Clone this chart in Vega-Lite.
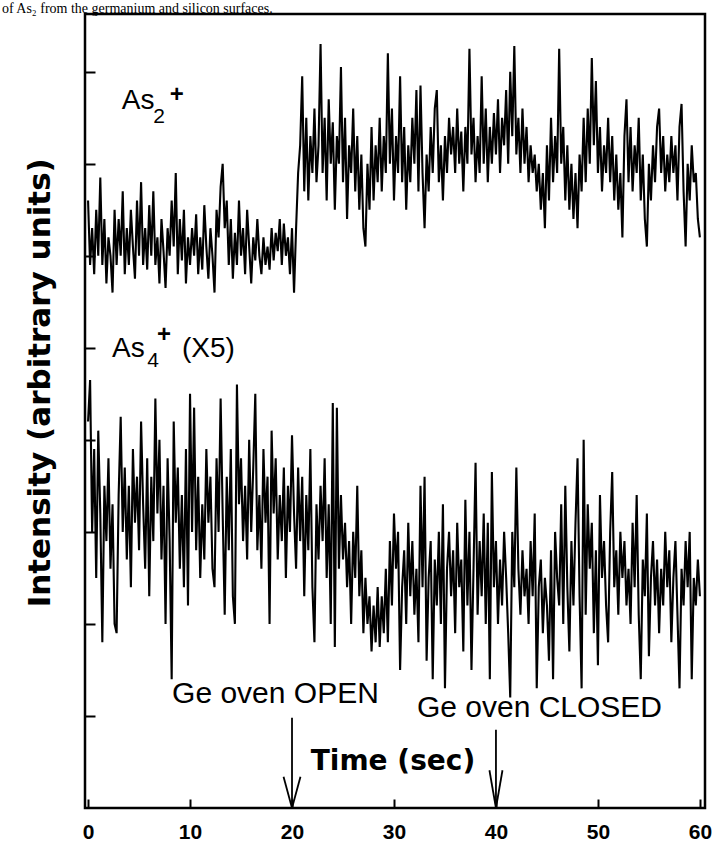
{
  "$schema": "https://vega.github.io/schema/vega-lite/v6.json",
  "width": 620,
  "height": 794,
  "autosize": {"type": "none"},
  "padding": {"left": 85, "top": 14, "right": 15, "bottom": 34},
  "background": "white",
  "config": {"view": {"stroke": "black", "strokeWidth": 2.5}, "font": "Liberation Sans"},
  "datasets": {
    "trace": [
{"t":0,"a":6.6,"b":4.2},{"t":0.2,"a":5.9,"b":4.65},{"t":0.4,"a":6.3,"b":3.0},{"t":0.6,"a":5.8,"b":3.9},{"t":0.8,"a":6.5,"b":2.5},
{"t":1,"a":6.0,"b":4.1},{"t":1.2,"a":6.85,"b":3.2},{"t":1.4,"a":5.9,"b":1.8},{"t":1.6,"a":6.4,"b":3.5},{"t":1.8,"a":5.7,"b":2.9},
{"t":2,"a":6.2,"b":3.8},{"t":2.2,"a":6.0,"b":2.6},{"t":2.4,"a":5.6,"b":3.3},{"t":2.6,"a":6.5,"b":2.0},{"t":2.8,"a":5.9,"b":1.9},
{"t":3,"a":6.4,"b":3.4},{"t":3.2,"a":6.0,"b":4.25},{"t":3.4,"a":6.7,"b":3.0},{"t":3.6,"a":5.8,"b":3.7},{"t":3.8,"a":6.3,"b":2.7},
{"t":4,"a":5.9,"b":3.5},{"t":4.2,"a":6.5,"b":2.4},{"t":4.4,"a":6.1,"b":3.9},{"t":4.6,"a":5.75,"b":3.1},{"t":4.8,"a":6.6,"b":3.6},
{"t":5,"a":6.0,"b":2.8},{"t":5.2,"a":6.8,"b":4.2},{"t":5.4,"a":5.9,"b":3.3},{"t":5.6,"a":6.3,"b":2.6},{"t":5.8,"a":5.85,"b":3.8},
{"t":6,"a":6.55,"b":2.3},{"t":6.2,"a":6.0,"b":3.6},{"t":6.4,"a":6.7,"b":2.9},{"t":6.6,"a":5.9,"b":4.45},{"t":6.8,"a":6.2,"b":3.2},
{"t":7,"a":5.7,"b":4.0},{"t":7.2,"a":6.4,"b":2.7},{"t":7.4,"a":6.05,"b":3.5},{"t":7.6,"a":5.65,"b":2.0},{"t":7.8,"a":6.3,"b":3.8},
{"t":8,"a":6.0,"b":2.9},{"t":8.2,"a":6.6,"b":1.4},{"t":8.4,"a":6.1,"b":4.2},{"t":8.6,"a":6.9,"b":3.1},{"t":8.8,"a":5.8,"b":3.7},
{"t":9,"a":6.4,"b":2.6},{"t":9.2,"a":5.95,"b":3.4},{"t":9.4,"a":6.5,"b":2.4},{"t":9.6,"a":5.7,"b":3.9},{"t":9.8,"a":6.2,"b":2.2},
{"t":10,"a":5.9,"b":4.5},{"t":10.2,"a":6.3,"b":3.0},{"t":10.4,"a":6.0,"b":4.35},{"t":10.6,"a":6.45,"b":2.8},{"t":10.8,"a":5.8,"b":3.6},
{"t":11,"a":6.2,"b":2.5},{"t":11.2,"a":5.85,"b":3.3},{"t":11.4,"a":6.55,"b":2.7},{"t":11.6,"a":6.1,"b":3.9},{"t":11.8,"a":5.75,"b":3.1},
{"t":12,"a":6.3,"b":3.6},{"t":12.2,"a":6.0,"b":2.6},{"t":12.4,"a":5.6,"b":2.4},{"t":12.6,"a":6.5,"b":3.8},{"t":12.8,"a":6.2,"b":3.0},
{"t":13,"a":6.75,"b":4.45},{"t":13.2,"a":7.0,"b":3.2},{"t":13.4,"a":6.3,"b":2.1},{"t":13.6,"a":6.6,"b":3.6},{"t":13.8,"a":5.9,"b":2.8},
{"t":14,"a":6.4,"b":3.9},{"t":14.2,"a":5.75,"b":2.3},{"t":14.4,"a":6.25,"b":2.0},{"t":14.6,"a":5.9,"b":4.6},{"t":14.8,"a":6.6,"b":3.3},
{"t":15,"a":6.0,"b":3.8},{"t":15.2,"a":6.3,"b":2.9},{"t":15.4,"a":5.8,"b":3.5},{"t":15.6,"a":6.5,"b":2.7},{"t":15.8,"a":6.1,"b":4.0},
{"t":16,"a":5.7,"b":3.0},{"t":16.2,"a":6.2,"b":3.7},{"t":16.4,"a":5.95,"b":4.5},{"t":16.6,"a":6.4,"b":2.8},{"t":16.8,"a":6.0,"b":3.4},
{"t":17,"a":5.8,"b":2.6},{"t":17.2,"a":6.2,"b":3.9},{"t":17.4,"a":5.9,"b":3.1},{"t":17.6,"a":6.1,"b":3.6},{"t":17.8,"a":5.85,"b":2.0},
{"t":18,"a":6.3,"b":4.1},{"t":18.2,"a":5.95,"b":3.2},{"t":18.4,"a":6.25,"b":3.8},{"t":18.6,"a":6.05,"b":2.7},{"t":18.8,"a":6.4,"b":3.4},
{"t":19,"a":5.9,"b":2.9},{"t":19.2,"a":6.35,"b":3.7},{"t":19.4,"a":6.0,"b":2.5},{"t":19.6,"a":6.2,"b":3.5},{"t":19.8,"a":5.8,"b":3.0},
{"t":20,"a":6.3,"b":4.05},{"t":20.2,"a":5.6,"b":3.2},{"t":20.4,"a":6.3,"b":2.6},{"t":20.6,"a":6.9,"b":3.7},{"t":20.8,"a":7.2,"b":2.9},
{"t":21,"a":7.95,"b":3.6},{"t":21.2,"a":6.7,"b":2.3},{"t":21.4,"a":7.5,"b":3.4},{"t":21.6,"a":6.6,"b":2.8},{"t":21.8,"a":7.3,"b":3.9},
{"t":22,"a":6.9,"b":2.4},{"t":22.2,"a":7.6,"b":1.8},{"t":22.4,"a":6.8,"b":3.3},{"t":22.6,"a":7.2,"b":2.7},{"t":22.8,"a":8.3,"b":3.5},
{"t":23,"a":6.9,"b":2.9},{"t":23.2,"a":7.5,"b":3.8},{"t":23.4,"a":6.6,"b":2.5},{"t":23.6,"a":7.7,"b":3.3},{"t":23.8,"a":7.0,"b":2.0},
{"t":24,"a":7.45,"b":4.4},{"t":24.2,"a":6.5,"b":1.75},{"t":24.4,"a":7.3,"b":4.35},{"t":24.6,"a":7.0,"b":2.6},{"t":24.8,"a":8.05,"b":3.4},
{"t":25,"a":6.8,"b":2.7},{"t":25.2,"a":7.5,"b":3.1},{"t":25.4,"a":6.4,"b":2.4},{"t":25.6,"a":7.2,"b":2.9},{"t":25.8,"a":6.9,"b":2.0},
{"t":26,"a":7.6,"b":3.0},{"t":26.2,"a":6.7,"b":2.5},{"t":26.4,"a":7.3,"b":3.5},{"t":26.6,"a":6.5,"b":2.3},{"t":26.8,"a":7.1,"b":2.8},
{"t":27,"a":6.3,"b":1.9},{"t":27.2,"a":6.1,"b":2.5},{"t":27.4,"a":7.0,"b":2.0},{"t":27.6,"a":6.5,"b":2.3},{"t":27.8,"a":7.4,"b":1.7},
{"t":28,"a":6.6,"b":2.2},{"t":28.2,"a":7.2,"b":1.8},{"t":28.4,"a":6.8,"b":2.4},{"t":28.6,"a":7.5,"b":1.75},{"t":28.8,"a":6.7,"b":2.3},
{"t":29,"a":7.3,"b":1.9},{"t":29.2,"a":6.9,"b":2.6},{"t":29.4,"a":8.2,"b":1.8},{"t":29.6,"a":7.0,"b":2.9},{"t":29.8,"a":7.6,"b":2.2},
{"t":30,"a":6.6,"b":3.2},{"t":30.2,"a":7.3,"b":2.6},{"t":30.4,"a":6.9,"b":3.0},{"t":30.6,"a":7.95,"b":1.5},{"t":30.8,"a":6.8,"b":2.4},
{"t":31,"a":7.4,"b":2.8},{"t":31.2,"a":6.5,"b":2.0},{"t":31.4,"a":7.2,"b":3.1},{"t":31.6,"a":6.8,"b":2.3},{"t":31.8,"a":7.5,"b":2.9},
{"t":32,"a":7.0,"b":2.1},{"t":32.2,"a":7.8,"b":2.6},{"t":32.4,"a":6.7,"b":1.8},{"t":32.6,"a":7.85,"b":3.5},{"t":32.8,"a":6.9,"b":2.4},
{"t":33,"a":6.3,"b":3.6},{"t":33.2,"a":7.1,"b":1.6},{"t":33.4,"a":6.7,"b":2.5},{"t":33.6,"a":7.4,"b":2.9},{"t":33.8,"a":6.9,"b":1.4},
{"t":34,"a":7.6,"b":2.7},{"t":34.2,"a":7.8,"b":2.2},{"t":34.4,"a":6.8,"b":3.0},{"t":34.6,"a":7.2,"b":2.0},{"t":34.8,"a":6.6,"b":3.3},
{"t":35,"a":7.3,"b":1.3},{"t":35.2,"a":6.9,"b":2.6},{"t":35.4,"a":7.5,"b":3.0},{"t":35.6,"a":7.1,"b":2.3},{"t":35.8,"a":7.4,"b":2.8},
{"t":36,"a":6.9,"b":1.9},{"t":36.2,"a":7.6,"b":3.1},{"t":36.4,"a":7.0,"b":2.4},{"t":36.6,"a":7.35,"b":2.7},{"t":36.8,"a":6.7,"b":1.7},
{"t":37,"a":7.4,"b":3.35},{"t":37.2,"a":7.0,"b":2.2},{"t":37.4,"a":8.25,"b":3.0},{"t":37.6,"a":7.1,"b":1.5},{"t":37.8,"a":7.5,"b":2.6},
{"t":38,"a":6.8,"b":3.75},{"t":38.2,"a":7.3,"b":2.1},{"t":38.4,"a":6.9,"b":2.9},{"t":38.6,"a":7.95,"b":2.3},{"t":38.8,"a":7.0,"b":3.2},
{"t":39,"a":7.6,"b":2.0},{"t":39.2,"a":6.8,"b":3.1},{"t":39.4,"a":7.4,"b":1.4},{"t":39.6,"a":7.0,"b":3.65},{"t":39.8,"a":7.55,"b":2.4},
{"t":40,"a":7.1,"b":2.9},{"t":40.2,"a":7.7,"b":2.0},{"t":40.4,"a":6.9,"b":2.7},{"t":40.6,"a":7.5,"b":2.2},{"t":40.8,"a":7.2,"b":3.0},
{"t":41,"a":7.8,"b":2.5},{"t":41.2,"a":7.0,"b":1.9},{"t":41.4,"a":8.0,"b":1.2},{"t":41.6,"a":7.3,"b":3.0},{"t":41.8,"a":8.28,"b":2.4},
{"t":42,"a":7.1,"b":3.7},{"t":42.2,"a":7.5,"b":2.6},{"t":42.4,"a":6.9,"b":2.1},{"t":42.6,"a":7.6,"b":2.8},{"t":42.8,"a":7.0,"b":2.3},
{"t":43,"a":7.4,"b":2.6},{"t":43.2,"a":6.8,"b":2.0},{"t":43.4,"a":7.2,"b":2.9},{"t":43.6,"a":6.9,"b":2.3},{"t":43.8,"a":7.1,"b":3.2},
{"t":44,"a":6.7,"b":1.3},{"t":44.2,"a":7.0,"b":2.4},{"t":44.4,"a":6.5,"b":2.7},{"t":44.6,"a":6.9,"b":1.9},{"t":44.8,"a":6.3,"b":2.5},
{"t":45,"a":7.2,"b":2.2},{"t":45.2,"a":6.6,"b":1.6},{"t":45.4,"a":7.5,"b":2.8},{"t":45.6,"a":6.8,"b":1.4},{"t":45.8,"a":7.3,"b":3.0},
{"t":46,"a":6.9,"b":2.5},{"t":46.2,"a":8.25,"b":2.2},{"t":46.4,"a":7.0,"b":3.3},{"t":46.6,"a":7.4,"b":2.0},{"t":46.8,"a":6.6,"b":3.5},
{"t":47,"a":7.2,"b":2.4},{"t":47.2,"a":6.5,"b":1.7},{"t":47.4,"a":7.0,"b":2.9},{"t":47.6,"a":6.4,"b":2.2},{"t":47.8,"a":6.9,"b":3.1},
{"t":48,"a":6.3,"b":3.8},{"t":48.2,"a":7.1,"b":2.3},{"t":48.4,"a":6.7,"b":1.3},{"t":48.6,"a":7.5,"b":4.0},{"t":48.8,"a":6.8,"b":2.1},
{"t":49,"a":7.6,"b":3.3},{"t":49.2,"a":7.0,"b":2.6},{"t":49.4,"a":8.15,"b":3.1},{"t":49.6,"a":7.2,"b":1.9},{"t":49.8,"a":7.9,"b":2.8},
{"t":50,"a":6.9,"b":1.55},{"t":50.2,"a":7.4,"b":3.4},{"t":50.4,"a":6.7,"b":2.5},{"t":50.6,"a":7.2,"b":2.9},{"t":50.8,"a":6.9,"b":2.2},
{"t":51,"a":7.5,"b":1.8},{"t":51.2,"a":6.8,"b":3.0},{"t":51.4,"a":7.3,"b":3.65},{"t":51.6,"a":6.6,"b":2.4},{"t":51.8,"a":7.1,"b":2.8},
{"t":52,"a":6.5,"b":2.1},{"t":52.2,"a":6.9,"b":3.0},{"t":52.4,"a":6.2,"b":2.5},{"t":52.6,"a":7.3,"b":2.9},{"t":52.8,"a":7.7,"b":2.2},
{"t":53,"a":6.8,"b":2.6},{"t":53.2,"a":7.4,"b":2.0},{"t":53.4,"a":6.7,"b":3.1},{"t":53.6,"a":7.2,"b":2.4},{"t":53.8,"a":6.9,"b":3.4},
{"t":54,"a":7.5,"b":2.1},{"t":54.2,"a":6.6,"b":1.4},{"t":54.4,"a":7.1,"b":2.7},{"t":54.6,"a":6.4,"b":2.3},{"t":54.8,"a":6.1,"b":3.2},
{"t":55,"a":7.0,"b":1.65},{"t":55.2,"a":6.6,"b":2.5},{"t":55.4,"a":7.2,"b":2.9},{"t":55.6,"a":6.8,"b":2.2},{"t":55.8,"a":7.4,"b":2.7},
{"t":56,"a":7.6,"b":1.9},{"t":56.2,"a":6.9,"b":2.6},{"t":56.4,"a":7.3,"b":2.2},{"t":56.6,"a":6.7,"b":3.0},{"t":56.8,"a":7.1,"b":2.4},
{"t":57,"a":6.8,"b":2.8},{"t":57.2,"a":7.3,"b":1.8},{"t":57.4,"a":6.9,"b":2.5},{"t":57.6,"a":7.2,"b":2.9},{"t":57.8,"a":6.6,"b":2.1},
{"t":58,"a":7.4,"b":1.3},{"t":58.2,"a":7.65,"b":2.6},{"t":58.4,"a":6.7,"b":2.2},{"t":58.6,"a":6.1,"b":2.9},{"t":58.8,"a":7.0,"b":2.4},
{"t":59,"a":6.6,"b":3.0},{"t":59.2,"a":7.2,"b":1.4},{"t":59.4,"a":6.8,"b":2.5},{"t":59.6,"a":6.9,"b":2.2},{"t":59.8,"a":6.4,"b":2.7},
{"t":60,"a":6.2,"b":2.3}
    ]
  },
  "encoding": {
    "x": {"field": "t", "type": "quantitative",
      "scale": {"domain": [-0.3, 60.5], "nice": false, "zero": false},
      "axis": {"values": [0, 10, 20, 30, 40, 50, 60], "title": null, "domain": false, "grid": false,
        "tickSize": -9, "tickWidth": 2, "tickColor": "black", "labelPadding": 22,
        "labelFont": "Liberation Sans", "labelFontSize": 21, "labelFontWeight": "bold", "labelColor": "black", "labelFlush": false}},
    "y": {"field": "v", "type": "quantitative",
      "scale": {"domain": [0, 8.627], "nice": false, "zero": false},
      "axis": {"values": [1, 2, 3, 4, 5, 6, 7, 8], "title": null, "labels": false, "domain": false, "grid": false,
        "tickSize": -10, "tickWidth": 2, "tickColor": "black"}}
  },
  "layer": [
    {
      "data": {"name": "trace"},
      "transform": [{"fold": ["a", "b"], "as": ["series", "v"]}],
      "mark": {"type": "line", "color": "black", "strokeWidth": 2.1, "strokeJoin": "miter"},
      "encoding": {"detail": {"field": "series"}}
    },
    {
      "data": {"values": [
        {"t": 20, "v": 0.98, "t2": 20, "v2": 0},
        {"t": 19.17, "v": 0.34, "t2": 20, "v2": 0},
        {"t": 20.83, "v": 0.34, "t2": 20, "v2": 0},
        {"t": 40, "v": 0.85, "t2": 40, "v2": 0},
        {"t": 39.36, "v": 0.41, "t2": 40, "v2": 0},
        {"t": 40.64, "v": 0.41, "t2": 40, "v2": 0}
      ]},
      "mark": {"type": "rule", "color": "black", "strokeWidth": 1.8},
      "encoding": {"x2": {"field": "t2"}, "y2": {"field": "v2"}}
    },
    {
      "data": {"values": [
        {"t": 3.3, "v": 7.59, "txt": "As"},
        {"t": 2.35, "v": 4.9, "txt": "As"},
        {"t": 9.2, "v": 4.9, "txt": "(X5)"}
      ]},
      "mark": {"type": "text", "font": "Liberation Sans", "fontSize": 28, "align": "left", "baseline": "alphabetic", "color": "black"},
      "encoding": {"text": {"field": "txt"}}
    },
    {
      "data": {"values": [
        {"t": 6.4, "v": 7.44, "txt": "2"},
        {"t": 5.8, "v": 4.79, "txt": "4"}
      ]},
      "mark": {"type": "text", "font": "Liberation Sans", "fontSize": 21, "align": "left", "baseline": "alphabetic", "color": "black"},
      "encoding": {"text": {"field": "txt"}}
    },
    {
      "data": {"values": [
        {"t": 8.0, "v": 7.67, "txt": "+"},
        {"t": 6.76, "v": 5.06, "txt": "+"}
      ]},
      "mark": {"type": "text", "font": "Liberation Sans", "fontSize": 24, "fontWeight": "bold", "align": "left", "baseline": "alphabetic", "color": "black"},
      "encoding": {"text": {"field": "txt"}}
    },
    {
      "data": {"values": [
        {"t": 8.24, "v": 1.14, "txt": "Ge oven OPEN"},
        {"t": 32.25, "v": 0.99, "txt": "Ge oven CLOSED"}
      ]},
      "mark": {"type": "text", "font": "Liberation Sans", "fontSize": 30, "align": "left", "baseline": "alphabetic", "color": "black"},
      "encoding": {"text": {"field": "txt"}}
    },
    {
      "data": {"values": [{"t": 29.9, "v": 0.41, "txt": "Time (sec)"}]},
      "mark": {"type": "text", "font": "DejaVu Sans", "fontWeight": "bold", "fontSize": 28, "align": "center", "baseline": "alphabetic", "color": "black"},
      "encoding": {"text": {"field": "txt"}}
    },
    {
      "data": {"values": [{"t": -3.73, "v": 4.62, "txt": "Intensity (arbitrary units)"}]},
      "mark": {"type": "text", "font": "DejaVu Sans", "fontWeight": "bold", "fontSize": 31, "angle": 270, "align": "center", "baseline": "alphabetic", "color": "black"},
      "encoding": {"text": {"field": "txt"}}
    },
    {
      "data": {"values": [{"t": -8.45, "v": 8.638, "txt": "of As₂ from the germanium and silicon surfaces."}]},
      "mark": {"type": "text", "font": "Liberation Serif", "fontSize": 14, "align": "left", "baseline": "alphabetic", "color": "black"},
      "encoding": {"text": {"field": "txt"}}
    }
  ]
}
